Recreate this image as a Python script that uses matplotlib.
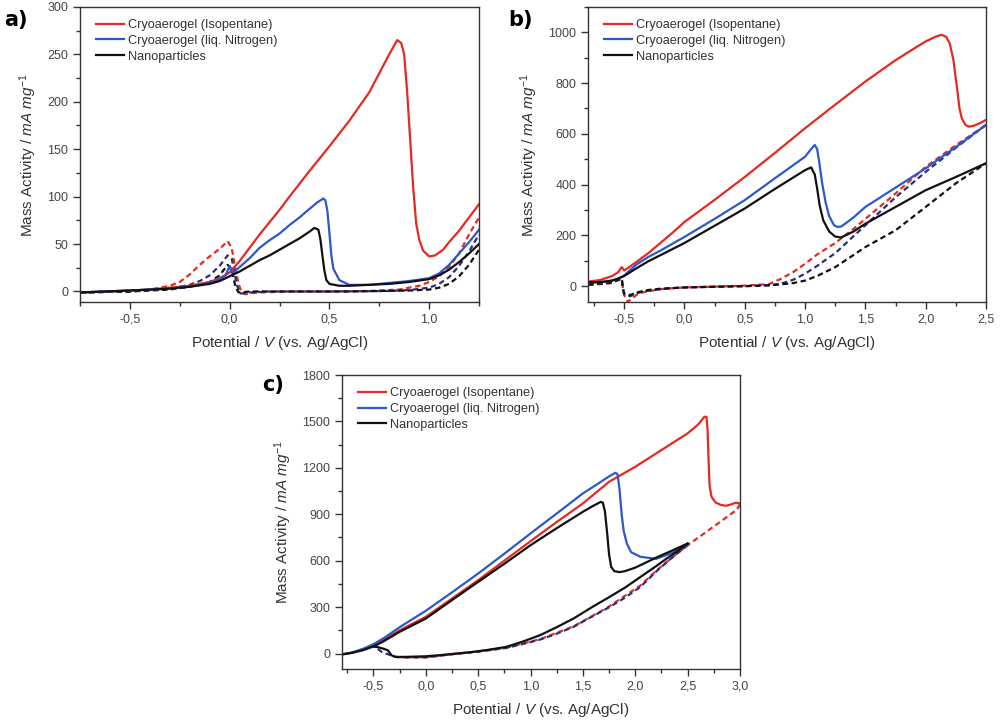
import matplotlib
matplotlib.use("Agg")
import matplotlib.pyplot as plt
from matplotlib.ticker import MultipleLocator, FuncFormatter

plt.rcParams['font.family'] = ['Liberation Sans', 'DejaVu Sans']
plt.rcParams['mathtext.fontset'] = 'custom'
plt.rcParams['mathtext.rm'] = 'Liberation Sans'
plt.rcParams['mathtext.it'] = 'Liberation Sans:italic'

# ---------------- Panel a ----------------
a_red_x = [-0.75,-0.6,-0.5,-0.4,-0.3,-0.2,-0.1,-0.05,0.0,0.05,0.1,0.15,0.2,0.25,0.3,0.4,0.5,0.6,0.7,0.75,0.8,0.84,0.86,0.875,0.89,0.905,0.92,0.935,0.95,0.97,1.0,1.03,1.07,1.1,1.15,1.2,1.25]
a_red_y = [-1,0,1,2,4,6,10,14,20,32,46,60,73,86,100,127,153,180,210,230,250,265,262,250,210,160,110,72,55,43,37,38,44,52,64,78,92]
a_blue_x = [-0.75,-0.5,-0.3,-0.2,-0.1,-0.05,-0.02,0.0,0.01,0.03,0.1,0.15,0.2,0.25,0.3,0.35,0.4,0.44,0.47,0.48,0.49,0.5,0.51,0.52,0.55,0.6,0.7,0.8,0.9,1.0,1.05,1.1,1.15,1.2,1.25]
a_blue_y = [-1,1,3,5,9,13,17,27,20,22,35,46,54,61,70,78,87,94,98,96,85,62,38,24,12,7,7,9,11,14,19,28,40,52,65]
a_black_x = [-0.75,-0.5,-0.3,-0.2,-0.1,-0.05,0.0,0.05,0.1,0.15,0.2,0.25,0.3,0.35,0.4,0.425,0.445,0.455,0.465,0.475,0.485,0.5,0.55,0.6,0.7,0.8,0.9,1.0,1.05,1.1,1.15,1.2,1.25]
a_black_y = [-1,1,3,5,8,11,16,21,27,33,38,44,50,56,63,67,65,55,38,22,12,8,6,6,7,8,10,13,17,23,31,40,50]
a_red_d_x = [-0.75,-0.6,-0.5,-0.4,-0.3,-0.25,-0.2,-0.15,-0.1,-0.05,-0.01,0.01,0.02,0.03,0.045,0.06,0.08,0.1,0.15,0.3,0.5,0.7,0.85,0.9,0.95,1.0,1.05,1.1,1.15,1.2,1.25]
a_red_d_y = [-1,-0.5,0,2,6,10,18,28,37,45,53,46,35,22,8,-1,-3,-2,-1,0,0,0.5,2,4,6,10,16,26,40,60,78]
a_blue_d_x = [-0.75,-0.5,-0.3,-0.2,-0.15,-0.1,-0.05,-0.01,0.01,0.02,0.035,0.05,0.07,0.1,0.2,0.5,0.8,0.9,1.0,1.05,1.1,1.15,1.2,1.25]
a_blue_d_y = [-1,0,3,7,11,17,27,38,35,25,8,-2,-2,-1,0,0,0.5,1.5,4,8,15,27,42,60]
a_black_d_x = [-0.75,-0.5,-0.3,-0.2,-0.1,-0.05,-0.01,0.01,0.02,0.03,0.045,0.06,0.1,0.3,0.6,0.9,1.0,1.05,1.1,1.15,1.2,1.25]
a_black_d_y = [-1,0,2,5,10,17,28,24,14,4,-1,-1,0,0,0,1,2,4,8,16,28,44]

# ---------------- Panel b ----------------
b_red_x = [-0.8,-0.7,-0.6,-0.55,-0.52,-0.5,-0.45,-0.4,-0.3,-0.2,-0.1,0.0,0.25,0.5,0.75,1.0,1.25,1.5,1.75,1.9,2.0,2.08,2.13,2.17,2.2,2.23,2.26,2.28,2.3,2.33,2.36,2.4,2.45,2.5]
b_red_y = [18,24,40,55,75,62,78,95,130,170,210,253,340,430,525,622,715,806,890,935,964,982,990,982,955,890,780,700,660,635,628,632,642,655]
b_blue_x = [-0.8,-0.7,-0.6,-0.55,-0.5,-0.4,-0.3,-0.2,-0.1,0.0,0.25,0.5,0.75,1.0,1.05,1.08,1.1,1.12,1.14,1.17,1.2,1.24,1.27,1.3,1.4,1.5,1.75,2.0,2.25,2.5]
b_blue_y = [15,15,22,30,42,85,115,140,167,194,265,339,425,510,540,556,540,480,410,330,275,240,233,235,270,312,388,464,548,635]
b_black_x = [-0.8,-0.7,-0.6,-0.55,-0.5,-0.4,-0.3,-0.2,-0.1,0.0,0.25,0.5,0.75,1.0,1.05,1.08,1.1,1.12,1.15,1.2,1.25,1.3,1.4,1.5,1.75,2.0,2.25,2.5]
b_black_y = [15,16,22,30,40,70,98,122,146,170,238,306,383,457,468,440,385,320,260,215,195,192,215,246,312,378,430,484]
b_red_d_x = [-0.8,-0.7,-0.6,-0.55,-0.52,-0.5,-0.47,-0.44,-0.4,-0.35,-0.3,-0.2,-0.1,0.0,0.25,0.5,0.7,0.8,0.9,1.0,1.1,1.25,1.4,1.5,1.75,2.0,2.25,2.5]
b_red_d_y = [10,8,12,25,20,-35,-62,-50,-35,-25,-20,-12,-8,-5,-2,2,8,29,55,88,125,170,225,265,365,470,555,635]
b_blue_d_x = [-0.8,-0.7,-0.6,-0.55,-0.52,-0.51,-0.5,-0.45,-0.4,-0.35,-0.3,-0.2,-0.1,0.0,0.25,0.5,0.7,0.8,0.9,1.0,1.1,1.25,1.5,1.75,2.0,2.25,2.5]
b_blue_d_y = [5,10,15,25,30,-10,-30,-40,-28,-22,-18,-12,-8,-5,-2,0,3,10,25,49,80,130,240,350,450,545,635]
b_black_d_x = [-0.8,-0.7,-0.6,-0.55,-0.52,-0.51,-0.5,-0.45,-0.4,-0.3,-0.2,0.0,0.5,0.75,0.9,1.0,1.1,1.25,1.5,1.75,2.0,2.25,2.5]
b_black_d_y = [5,10,15,25,30,-10,-30,-35,-25,-15,-10,-5,0,5,12,22,40,75,154,220,312,405,484]

# ---------------- Panel c ----------------
c_red_x = [-0.8,-0.7,-0.6,-0.5,-0.4,-0.25,0.0,0.25,0.5,0.75,1.0,1.25,1.5,1.75,2.0,2.25,2.5,2.6,2.66,2.68,2.69,2.7,2.71,2.73,2.77,2.82,2.87,2.92,2.96,3.0]
c_red_y = [-6,5,22,54,90,150,237,355,474,600,726,850,970,1110,1207,1315,1423,1480,1530,1530,1450,1250,1080,1010,975,960,955,965,975,970]
c_blue_x = [-0.8,-0.7,-0.6,-0.5,-0.4,-0.25,0.0,0.25,0.5,0.75,1.0,1.25,1.5,1.65,1.75,1.81,1.83,1.85,1.87,1.89,1.92,1.96,2.05,2.2,2.35,2.5]
c_blue_y = [-6,8,30,60,100,170,276,395,517,645,776,905,1035,1100,1145,1168,1160,1060,900,790,711,655,625,612,650,700]
c_black_x = [-0.8,-0.7,-0.6,-0.5,-0.4,-0.25,0.0,0.25,0.5,0.75,1.0,1.25,1.5,1.6,1.67,1.69,1.71,1.73,1.75,1.77,1.8,1.85,1.9,2.0,2.2,2.35,2.5]
c_black_y = [-6,5,22,45,80,140,226,345,463,580,700,810,916,955,980,975,920,790,640,560,532,526,532,555,620,665,711]
c_black_rev_x = [2.5,2.4,2.3,2.2,2.05,1.9,1.73,1.6,1.41,1.25,1.09,0.93,0.77,0.6,0.45,0.3,0.13,0.0,-0.2,-0.28,-0.32,-0.34,-0.36,-0.4,-0.45,-0.5]
c_black_rev_y = [711,660,614,565,495,425,356,305,226,170,118,78,43,24,10,0,-11,-18,-22,-22,-15,0,20,30,40,45]
c_blue_d_x = [2.5,2.36,2.2,2.05,1.9,1.73,1.55,1.41,1.25,1.09,0.93,0.77,0.5,0.25,0.0,-0.2,-0.3,-0.34,-0.38,-0.42,-0.45,-0.48]
c_blue_d_y = [700,625,530,431,360,291,225,172,128,90,62,36,12,-5,-25,-25,-22,-10,0,10,25,40]
c_red_d_x = [3.0,2.97,2.85,2.68,2.5,2.36,2.2,2.05,1.73,1.41,1.09,0.77,0.5,0.25,0.0,-0.2,-0.3]
c_red_d_y = [965,930,870,787,700,625,535,440,295,175,92,38,14,-4,-25,-25,-22]

labels = ["Cryoaerogel (Isopentane)", "Cryoaerogel (liq. Nitrogen)", "Nanoparticles"]
RED = '#e42a22'
BLUE = '#2c58c8'
BLACK = '#111111'
NAVY = '#2a2f78'
TXT = '#333333'

fig = plt.figure(figsize=(10, 7.24), dpi=100)

def comma(v, pos):
    s = f"{v:.1f}".replace('.', ',')
    if s.startswith('-0,0'):
        s = '0,0'
    return s

def style(ax, xlim, ylim, xmaj, ymaj):
    ax.set_xlim(*xlim)
    ax.set_ylim(*ylim)
    ax.xaxis.set_major_locator(MultipleLocator(xmaj))
    ax.xaxis.set_minor_locator(MultipleLocator(xmaj / 2))
    ax.yaxis.set_major_locator(MultipleLocator(ymaj))
    ax.yaxis.set_minor_locator(MultipleLocator(ymaj / 2))
    ax.xaxis.set_major_formatter(FuncFormatter(comma))
    ax.yaxis.set_major_formatter(FuncFormatter(lambda v, p: f"{int(round(v))}"))
    ax.tick_params(which='both', direction='out', top=False, right=False,
                   colors='#333333', labelcolor='#444444', labelsize=9, width=1.0)
    ax.tick_params(which='major', length=5)
    ax.tick_params(which='minor', length=3)
    for s in ax.spines.values():
        s.set_color('#333333')
        s.set_linewidth(1.0)
    ax.set_xlabel(r"Potential / $\mathit{V}$ (vs. Ag/AgCl)", fontsize=11, color=TXT, labelpad=6)
    ax.set_ylabel(r"Mass Activity / $\mathit{mA\ mg}^{-1}$", fontsize=11, color=TXT, labelpad=6)

def legend(ax):
    leg = ax.legend(loc='upper left', frameon=False, fontsize=9.2, handlelength=2.2,
                    handletextpad=0.3, labelspacing=0.3, borderaxespad=0.55,
                    bbox_to_anchor=(0.01, 1.0))
    for t in leg.get_texts():
        t.set_color(TXT)

LW = 1.6
DASH = (0, (2.5, 1.6))

# Panel a
axa = fig.add_axes([0.080, 0.583, 0.399, 0.4075])
axa.plot(a_red_d_x, a_red_d_y, color=RED, lw=LW, ls=DASH)
axa.plot(a_blue_d_x, a_blue_d_y, color=NAVY, lw=LW, ls=DASH)
axa.plot(a_black_d_x, a_black_d_y, color=BLACK, lw=LW, ls=DASH)
axa.plot(a_red_x, a_red_y, color=RED, lw=LW, label=labels[0])
axa.plot(a_blue_x, a_blue_y, color=BLUE, lw=LW, label=labels[1])
axa.plot(a_black_x, a_black_y, color=BLACK, lw=LW, label=labels[2])
style(axa, (-0.75, 1.25), (-11, 300), 0.5, 50)
legend(axa)

# Panel b
axb = fig.add_axes([0.588, 0.583, 0.398, 0.4075])
axb.plot(b_red_d_x, b_red_d_y, color=RED, lw=LW, ls=DASH)
axb.plot(b_blue_d_x, b_blue_d_y, color=NAVY, lw=LW, ls=DASH)
axb.plot(b_black_d_x, b_black_d_y, color=BLACK, lw=LW, ls=DASH)
axb.plot(b_red_x, b_red_y, color=RED, lw=LW, label=labels[0])
axb.plot(b_blue_x, b_blue_y, color=BLUE, lw=LW, label=labels[1])
axb.plot(b_black_x, b_black_y, color=BLACK, lw=LW, label=labels[2])
style(axb, (-0.8, 2.5), (-62, 1100), 0.5, 200)
legend(axb)

# Panel c
axc = fig.add_axes([0.342, 0.076, 0.398, 0.406])
axc.plot(c_red_d_x, c_red_d_y, color=RED, lw=LW, ls=DASH)
axc.plot(c_blue_d_x, c_blue_d_y, color=NAVY, lw=LW, ls=DASH)
axc.plot(c_red_x, c_red_y, color=RED, lw=LW, label=labels[0])
axc.plot(c_blue_x, c_blue_y, color=BLUE, lw=LW, label=labels[1])
axc.plot(c_black_x, c_black_y, color=BLACK, lw=LW, label=labels[2])
axc.plot(c_black_rev_x, c_black_rev_y, color=BLACK, lw=LW)
style(axc, (-0.8, 3.0), (-100, 1800), 0.5, 300)
legend(axc)

fig.text(0.004, 0.972, "a)", fontsize=15, fontweight='bold', va='center', ha='left', family='DejaVu Sans')
fig.text(0.508, 0.972, "b)", fontsize=15, fontweight='bold', va='center', ha='left', family='DejaVu Sans')
fig.text(0.262, 0.468, "c)", fontsize=15, fontweight='bold', va='center', ha='left', family='DejaVu Sans')

fig.savefig("out.png", dpi=100, facecolor='white')
